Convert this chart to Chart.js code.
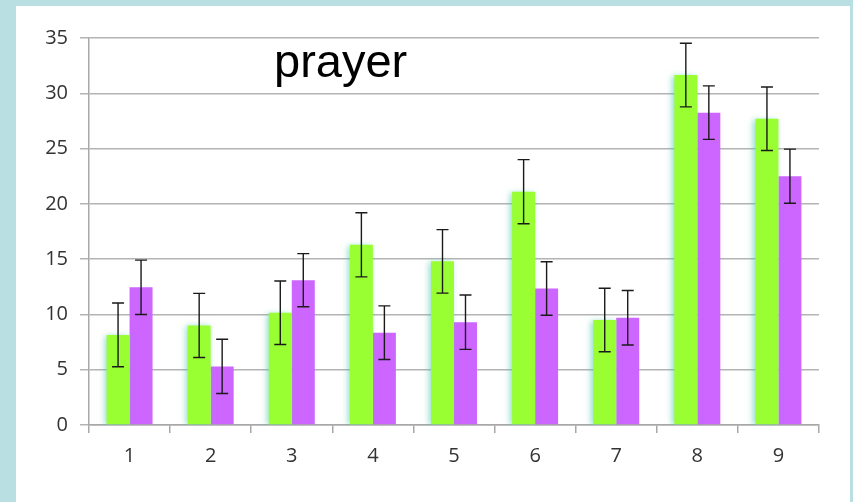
<!DOCTYPE html>
<html>
<head>
<meta charset="utf-8">
<script src="https://cdn.jsdelivr.net/npm/chart.js@4.4.0/dist/chart.umd.min.js"></script>
<style>
  html, body { margin: 0; padding: 0; width: 853px; height: 502px; background: #b9dfe3; overflow: hidden; }
  #panel { position: absolute; left: 16px; top: 6px; width: 834px; height: 496px; background: #ffffff; }
  #c { display: block; }
</style>
</head>
<body>
<div id="panel"><canvas id="c" width="834" height="496"></canvas></div>
<script>
const categories = ['1', '2', '3', '4', '5', '6', '7', '8', '9'];
const greenValues = [8.15, 9.0, 10.15, 16.3, 14.8, 21.1, 9.5, 31.65, 27.7];
const greenErrors = [2.88, 2.9, 2.87, 2.9, 2.87, 2.9, 2.87, 2.88, 2.87];
const purpleValues = [12.45, 5.3, 13.1, 8.35, 9.3, 12.35, 9.7, 28.25, 22.5];
const purpleErrors = [2.46, 2.45, 2.4, 2.42, 2.46, 2.42, 2.46, 2.42, 2.45];
const yTicks = [0, 5, 10, 15, 20, 25, 30, 35];
const titleText = 'prayer';

const shadowPlugin = {
  id: 'barShadow',
  beforeDatasetDraw(chart, args) {
    const ctx = chart.ctx;
    ctx.save();
    if (args.index === 0) {
      ctx.shadowColor = 'rgba(70,200,170,0.6)';
      ctx.shadowBlur = 6;
      ctx.shadowOffsetX = -2;
      ctx.shadowOffsetY = 1;
    }
  },
  afterDatasetDraw(chart) {
    chart.ctx.restore();
  }
};

const errorBarPlugin = {
  id: 'errorBars',
  afterDatasetsDraw(chart) {
    const ctx = chart.ctx;
    const y = chart.scales.y;
    chart.data.datasets.forEach((ds, di) => {
      const meta = chart.getDatasetMeta(di);
      meta.data.forEach((el, i) => {
        const v = ds.data[i];
        const e = ds.errors[i];
        const yt = y.getPixelForValue(v + e);
        const yb = y.getPixelForValue(v - e);
        const x = el.x;
        ctx.save();
        ctx.strokeStyle = '#1a1a1a';
        ctx.lineWidth = 1.4;
        ctx.beginPath();
        ctx.moveTo(x, yt); ctx.lineTo(x, yb);
        ctx.moveTo(x - 6, yt); ctx.lineTo(x + 6, yt);
        ctx.moveTo(x - 6, yb); ctx.lineTo(x + 6, yb);
        ctx.stroke();
        ctx.restore();
      });
    });
  }
};

const titlePlugin = {
  id: 'innerTitle',
  afterDraw(chart) {
    const ctx = chart.ctx;
    ctx.save();
    ctx.fillStyle = '#000000';
    ctx.font = '47px "Liberation Sans", Arial, sans-serif';
    ctx.textBaseline = 'alphabetic';
    ctx.textAlign = 'left';
    ctx.fillText(titleText, 258, 71);
    ctx.restore();
  }
};

new Chart(document.getElementById('c'), {
  type: 'bar',
  data: {
    labels: categories,
    datasets: [
      { data: greenValues, errors: greenErrors, backgroundColor: '#99ff33', borderWidth: 0,
        barPercentage: 1.0, categoryPercentage: 0.567 },
      { data: purpleValues, errors: purpleErrors, backgroundColor: '#cc66ff', borderWidth: 0,
        barPercentage: 1.0, categoryPercentage: 0.567 }
    ]
  },
  options: {
    responsive: false,
    animation: false,
    devicePixelRatio: 1,
    layout: { padding: { top: 32, right: 31, left: 0, bottom: 0 } },
    plugins: { legend: { display: false }, title: { display: false }, tooltip: { enabled: false } },
    scales: {
      x: {
        grid: { display: true, drawOnChartArea: false, offset: true, tickLength: 8, color: '#a8a8a8', lineWidth: 1.5 },
        border: { color: '#a8a8a8', width: 1.5 },
        ticks: { color: '#333333', font: { family: '"Open Sans", sans-serif', size: 20 }, padding: 11 },
        afterFit(scale) { scale.height = 77; }
      },
      y: {
        min: 0, max: 35,
        afterBuildTicks(scale) { scale.ticks = yTicks.map(v => ({ value: v })); },
        grid: { color: '#b4b4b4', lineWidth: 1.5, tickLength: 9 },
        border: { color: '#a8a8a8', width: 1.5 },
        ticks: { color: '#333333', font: { family: '"Open Sans", sans-serif', size: 20 }, padding: 12 },
        afterFit(scale) { scale.width = 73; }
      }
    }
  },
  plugins: [shadowPlugin, errorBarPlugin, titlePlugin]
});
</script>
</body>
</html>
